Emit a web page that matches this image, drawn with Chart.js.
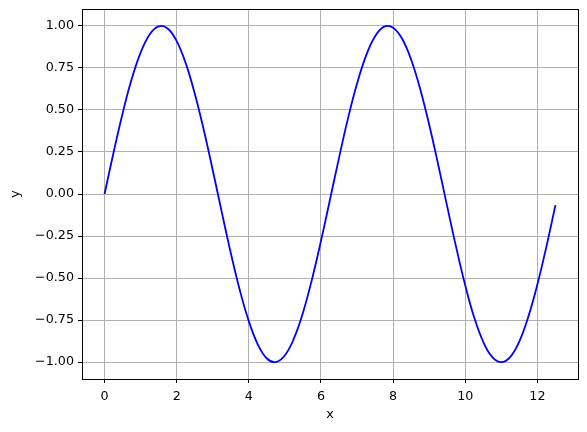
<!DOCTYPE html>
<html>
<head>
<meta charset="utf-8">
<script src="https://cdn.jsdelivr.net/npm/chart.js@4"></script>
<style>
	html, body { margin: 0; padding: 0; background: #fff; }
	#wrap { width: 587px; height: 432px; position: relative; }
</style>
</head>
<body>
<div id="wrap"><canvas id="myChart"></canvas></div>
<script>
// values
var xValues = [0, 0.25, 0.5, 0.75, 1, 1.25, 1.5, 1.75, 2, 2.25, 2.5, 2.75, 3, 3.25, 3.5, 3.75,
	4, 4.25, 4.5, 4.75, 5, 5.25, 5.5, 5.75, 6, 6.25, 6.5, 6.75, 7, 7.25, 7.5, 7.75,
	8, 8.25, 8.5, 8.75, 9, 9.25, 9.5, 9.75, 10, 10.25, 10.5, 10.75, 11, 11.25, 11.5, 11.75,
	12, 12.25, 12.5];
var yValues = [0, 0.247, 0.479, 0.682, 0.841, 0.949, 0.997, 0.984, 0.909, 0.778, 0.598, 0.382, 0.141, -0.108, -0.351, -0.572,
	-0.757, -0.895, -0.978, -0.999, -0.959, -0.859, -0.706, -0.508, -0.279, -0.033, 0.215, 0.451, 0.657, 0.823, 0.938, 0.995,
	0.989, 0.923, 0.798, 0.625, 0.412, 0.174, -0.075, -0.319, -0.544, -0.736, -0.880, -0.970, -1.000, -0.968, -0.876, -0.728,
	-0.537, -0.312, -0.066];
var xTicks = [0, 2, 4, 6, 8, 10, 12];
var yTicks = [-1, -0.75, -0.5, -0.25, 0, 0.25, 0.5, 0.75, 1];

var points = xValues.map(function(x, i){ return {x: x, y: yValues[i]}; });

Chart.defaults.font.family = "'DejaVu Sans', sans-serif";
Chart.defaults.font.size = 12.7;
Chart.defaults.color = '#000';

// black box round the plot area
var frame = {
	id: 'frame',
	afterDraw: function(chart){
		var a = chart.chartArea, ctx = chart.ctx;
		ctx.save();
		ctx.strokeStyle = '#000';
		ctx.lineWidth = 1;
		ctx.strokeRect(Math.round(a.left) + 0.5, Math.round(a.top) + 0.5,
			Math.round(a.right - a.left), Math.round(a.bottom - a.top));
		ctx.restore();
	}
};

var ctx = document.getElementById('myChart').getContext('2d');
var chart = new Chart(ctx, {
	type: 'scatter',
	data: {
		datasets: [{
			data: points,
			showLine: true,
			borderColor: '#0000ff',
			borderWidth: 1.8,
			pointRadius: 0,
			tension: 0.4,
			fill: false
		}]
	},
	options: {
		responsive: true,
		maintainAspectRatio: false,
		animation: false,
		layout: { padding: { left: 0, top: 9, right: 9, bottom: 0 } },
		plugins: { legend: { display: false }, tooltip: { enabled: false } },
		scales: {
			x: {
				type: 'linear',
				min: -0.625,
				max: 13.125,
				afterBuildTicks: function(axis){ axis.ticks = xTicks.map(function(v){ return {value: v}; }); },
				afterFit: function(axis){ axis.height = 53; axis.paddingLeft = 0; axis.paddingRight = 0; },
				grid: { color: '#b0b0b0', lineWidth: 1, tickColor: '#000', tickLength: 4, drawOnChartArea: true },
				border: { display: false },
				ticks: { padding: 6, maxRotation: 0, callback: function(v){ return String(v); } },
				title: { display: true, text: 'x', padding: { top: 2, bottom: 10 } }
			},
			y: {
				min: -1.1,
				max: 1.1,
				afterBuildTicks: function(axis){ axis.ticks = yTicks.map(function(v){ return {value: v}; }); },
				afterFit: function(axis){ axis.width = 82; axis.paddingTop = 0; axis.paddingBottom = 0; },
				grid: { color: '#b0b0b0', lineWidth: 1, tickColor: '#000', tickLength: 4 },
				border: { display: false },
				ticks: { padding: 4, callback: function(v){ return v.toFixed(2).replace('-', '\u2212'); } },
				title: { display: true, text: 'y', padding: { top: 8, bottom: 4 } }
			}
		}
	},
	plugins: [frame]
});
</script>
</body>
</html>
